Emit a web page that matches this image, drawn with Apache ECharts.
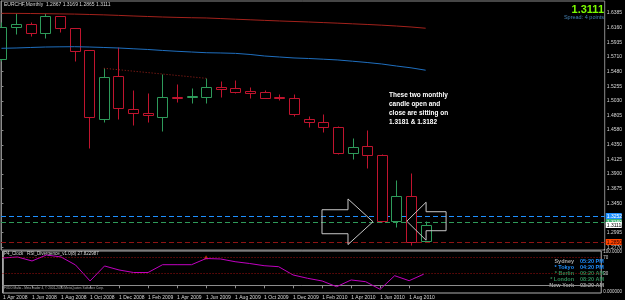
<!DOCTYPE html>
<html><head><meta charset="utf-8">
<script src="https://cdn.jsdelivr.net/npm/echarts@6/dist/echarts.min.js"></script>
<style>html,body{margin:0;padding:0;background:#000;}#c{width:625px;height:300px;}</style>
</head><body><div id="c"></div>
<script>
const symbolName = 'EURCHF,Monthly';
const months = ['Apr 2008','May 2008','Jun 2008','Jul 2008','Aug 2008','Sep 2008','Oct 2008','Nov 2008','Dec 2008',
  'Jan 2009','Feb 2009','Mar 2009','Apr 2009','May 2009','Jun 2009','Jul 2009','Aug 2009','Sep 2009','Oct 2009','Nov 2009','Dec 2009',
  'Jan 2010','Feb 2010','Mar 2010','Apr 2010','May 2010','Jun 2010','Jul 2010','Aug 2010','Sep 2010'];
const opens  = [1.5670,1.6164,1.6215,1.6081,1.6339,1.6149,1.5814,1.4745,1.5413,1.4899,1.4842,1.4785,1.5096,1.5084,1.5084,1.5248,1.5223,1.5186,1.5161,1.5084,1.5078,1.4745,1.4698,1.4621,1.4229,1.4333,1.4194,1.3182,1.3562,1.2867];
const closes = [1.6174,1.6215,1.6081,1.6339,1.6149,1.5803,1.4775,1.5402,1.4914,1.4837,1.4816,1.5084,1.5081,1.5099,1.5238,1.5208,1.5171,1.5158,1.5076,1.5069,1.4826,1.4698,1.4621,1.4229,1.4312,1.4194,1.3181,1.3560,1.2856,1.3111];
const lows   = [1.5650,1.6061,1.6035,1.5995,1.6096,1.5649,1.4297,1.4708,1.4745,1.4657,1.4698,1.4569,1.5016,1.5001,1.4991,1.5089,1.5150,1.5069,1.5066,1.5047,1.4796,1.4630,1.4553,1.4204,1.4127,1.3988,1.3165,1.3087,1.2805,1.2865];
const highs  = [1.6250,1.6380,1.6251,1.6380,1.6345,1.6160,1.5820,1.5532,1.5865,1.5197,1.5146,1.5444,1.5289,1.5223,1.5377,1.5340,1.5351,1.5238,1.5197,1.5130,1.5135,1.4795,1.4826,1.4641,1.4451,1.4580,1.4210,1.3808,1.3911,1.3169];
const maSlow = [1.6380,1.6379,1.6377,1.6374,1.6371,1.6368,1.6362,1.6356,1.6348,1.6339,1.6331,1.6323,1.6317,1.6312,1.6308,1.6299,1.6289,1.6280,1.6271,1.6262,1.6254,1.6246,1.6237,1.6228,1.6218,1.6208,1.6197,1.6184,1.6169,1.6150];
const maFast = [1.5840,1.5845,1.5853,1.5860,1.5863,1.5865,1.5860,1.5853,1.5845,1.5833,1.5822,1.5807,1.5794,1.5783,1.5772,1.5768,1.5762,1.5745,1.5721,1.5706,1.5691,1.5683,1.5672,1.5660,1.5641,1.5621,1.5598,1.5567,1.5539,1.5502];
const rsiValues = [68.3,70.8,60.8,75.8,70.8,50.8,10.8,48.3,38.3,32.0,32.0,51.5,51.5,51.5,67.0,65.8,59.0,54.5,49.0,46.5,25.8,17.5,10.8,-3.5,13.3,9.0,-10.0,24.0,11.5,27.8];
const rsiLast = '27.822987';
const rsiLevels = [70, 30];
const rsiAxisLabels = [83, 70, 30, -17];
const priceTicks = [1.6385,1.6160,1.5935,1.5710,1.5480,1.5255,1.5030,1.4805,1.4580,1.4350,1.4125,1.3900,1.3675,1.3450,1.2995,1.2770];
const dateTicks = [0,2,4,6,8,10,12,14,16,18,20,22,24,26,28];
const levelPrices = [1.3252, 1.3160, 1.2850];
const spreadPoints = 4;
const trendFrom = 7, trendTo = 14;
const noteLines = ['These two monthly','candle open and','close are sitting on','1.3181 & 1.3182'];
const clockCities = ['Sydney','* Tokyo','* Berlin','* London','New York'];
const clockTimes = ['05:20 PM','04:20 PM','09:20 AM','08:20 AM','03:20 AM'];
const arrowTips = [[25.4, 1.3164], [27.71, 1.3172]];

const last = months.length - 1;
const fmt = v => v.toFixed(4);
const candleData = months.map((m, i) => [i, opens[i], closes[i], lows[i], highs[i]]);
const bull = '#2e9a5a', bear = '#c0142e', frame = '#8c8c8c', txt = '#d8d8d8';
const levelStyles = [
  {line:'#1e90ff', bg:'#1e90ff', fg:'#ffffff'},
  {line:'#2e9a5a', bg:'#3cb371', fg:'#ffffff'},
  {line:'#8e1414', bg:'#ff4500', fg:'#330000'},
  {line:null, bg:'#ffffff', fg:'#000000'}
];
const levelData = levelPrices.concat([closes[last]]).map(v => [v]);
const arrowShapes = [
  {dir: 1, head: 25, headHalf: 22.8, shaft: 26, shaftHalf: 12},
  {dir: -1, head: 19.3, headHalf: 19, shaft: 20, shaftHalf: 9.5}
];
const xMin = -0.03, xMax = 41.24;
const clockCityColors = ['#a8a8a8','#1e90ff','#2e8b57','#2e8b57','#a8a8a8'];
const clockTimeColors = ['#1e90ff','#1e90ff','#2e8b57','#2e8b57','#a8a8a8'];

const chart = echarts.init(document.getElementById('c'), null, {renderer: 'canvas'});
const graphics = [
  {type:'text', left: 4, top: 2, style:{text: symbolName + '  ' + [opens[last], highs[last], lows[last], closes[last]].map(fmt).join(' '), fill: txt, font: '5px "Liberation Sans"'}},
  {type:'text', right: 21, top: 4, style:{text: fmt(closes[last]), fill:'#7cfc00', font:'bold 11px "Liberation Sans"'}},
  {type:'text', right: 21, top: 14, style:{text: 'Spread: ' + spreadPoints + ' points', fill:'#4682b4', font:'5.5px "Liberation Sans"'}},
  {type:'text', left: 389, top: 91, style:{text: noteLines.join('\n'), fill:'#ffffff', font:'bold 6.5px "Liberation Sans"', lineHeight: 9}},
  {type:'text', left: 4, top: 251, style:{text: 'P4_Clock   RSI_Divergence_v1.0(8) ' + rsiLast, fill: txt, font:'4.5px "Liberation Sans"'}},
  {type:'text', left: 4, top: 286.5, style:{text: 'FXDD Malta - MetaTrader 4, \u00a9 2001-2010 MetaQuotes Software Corp.', fill: '#b0b0b0', font:'3.2px "Liberation Sans"'}}
];
clockCities.forEach((c, i) => {
  graphics.push({type:'text', x: 574, y: 258 + i*6, style:{text: c, fill: clockCityColors[i], font:'bold 5.5px "Liberation Sans"', align:'right'}});
  graphics.push({type:'text', x: 580, y: 258 + i*6, style:{text: clockTimes[i], fill: clockTimeColors[i], font:'bold 5.5px "Liberation Sans"', align:'left'}});
});

chart.setOption({
  backgroundColor: '#000',
  animation: false,
  graphic: graphics,
  grid: [
    {left: 1, top: 1, width: 607, height: 249, show: true, borderColor: frame, borderWidth: 1, backgroundColor: '#000'},
    {left: 1, top: 251, width: 607, height: 42, show: true, borderColor: '#b0b0b0', borderWidth: 1, backgroundColor: '#000'}
  ],
  xAxis: [
    {type:'value', gridIndex: 0, min: xMin, max: xMax, show: false},
    {type:'value', gridIndex: 1, min: xMin, max: xMax, splitLine:{show:false},
      axisLine:{show:true, lineStyle:{color: frame}},
      axisTick:{show:true, length: 3, lineStyle:{color: frame}, customValues: dateTicks},
      axisLabel:{customValues: dateTicks, formatter: v => '1 ' + months[Math.round(v)], color: txt, fontSize: 5, align:'left', margin: 2, fontFamily:'Liberation Sans'}}
  ],
  yAxis: [
    {type:'value', gridIndex: 0, position:'right', min: 1.2728, max: 1.6570, splitLine:{show:false},
      axisLine:{show:true, lineStyle:{color: frame}},
      axisTick:{show:true, length: 2, lineStyle:{color: frame}, customValues: priceTicks},
      axisLabel:{customValues: priceTicks, formatter: v => fmt(v), color: txt, fontSize: 5, margin: 2, fontFamily:'Liberation Sans'}},
    {type:'value', gridIndex: 1, position:'right', min: -19.25, max: 85.75, splitLine:{show:false},
      axisLine:{show:true, lineStyle:{color: frame}},
      axisTick:{show:false},
      axisLabel:{customValues: rsiAxisLabels, formatter: v => (v === 70 || v === 30) ? String(v) : (v > 50 ? '100.0000' : '0.000000'), color: txt, fontSize: 4.5, margin: 2, fontFamily:'Liberation Sans'}}
  ],
  series: [
    {type:'line', name:'MA slow', xAxisIndex:0, yAxisIndex:0, data: maSlow.map((v,i)=>[i,v]), showSymbol:false, lineStyle:{color:'#a3221c', width:1}},
    {type:'line', name:'MA fast', xAxisIndex:0, yAxisIndex:0, data: maFast.map((v,i)=>[i,v]), showSymbol:false, lineStyle:{color:'#1f6fbf', width:1}},
    {type:'line', name:'trend', xAxisIndex:0, yAxisIndex:0, data: [[trendFrom, highs[trendFrom]], [trendTo, highs[trendTo]]], showSymbol:false, lineStyle:{color:'#a3221c', width:1, type:[1,2]}},
    {type:'custom', name:'levels', xAxisIndex:0, yAxisIndex:0, data: levelData, clip:false,
      encode:{y:0},
      renderItem: (params, api) => {
        const v = api.value(0);
        const y = Math.round(api.coord([0, v])[1]) + 0.5;
        const cs = params.coordSys;
        const st = levelStyles[params.dataIndex];
        const kids = [];
        if (st.line) kids.push({type:'line', shape:{x1: cs.x, y1: y, x2: cs.x + cs.width, y2: y}, style:{stroke: st.line, lineWidth: 1, lineDash:[5,3]}});
        kids.push({type:'rect', shape:{x: cs.x + cs.width + 1, y: y - 3.5, width: 16, height: 6}, style:{fill: st.bg}});
        kids.push({type:'text', x: cs.x + cs.width + 2, y: y, style:{text: fmt(v), fill: st.fg, font:'5px "Liberation Sans"', verticalAlign:'middle', align:'left'}});
        return {type:'group', children: kids};
      }},
    {type:'custom', name:'candles', xAxisIndex:0, yAxisIndex:0, data: candleData,
      renderItem: (params, api) => {
        const i = api.value(0), o = api.value(1), c = api.value(2), l = api.value(3), h = api.value(4);
        const pO = api.coord([i, o]), pC = api.coord([i, c]), pL = api.coord([i, l]), pH = api.coord([i, h]);
        const x = Math.round(pO[0]) + 0.5;
        const col = c >= o ? bull : bear;
        const top = Math.round(Math.min(pO[1], pC[1])) + 0.5;
        const bot = Math.max(Math.round(Math.max(pO[1], pC[1])) + 0.5, top + 1);
        return {type:'group', children:[
          {type:'line', shape:{x1:x, y1:Math.round(pH[1]) + 0.5, x2:x, y2:Math.round(pL[1]) + 0.5}, style:{stroke:col, lineWidth:1}},
          {type:'rect', shape:{x:x - 5, y:top, width:10, height:bot - top}, style:{fill:'#000', stroke:col, lineWidth:1}}
        ]};
      }},
    {type:'custom', name:'arrows', xAxisIndex:0, yAxisIndex:0, data: arrowTips, clip:false,
      renderItem: (params, api) => {
        const p = api.coord([api.value(0), api.value(1)]);
        const s = arrowShapes[params.dataIndex], d = s.dir;
        const bx = p[0] - d*s.head, ex = p[0] - d*(s.head + s.shaft);
        return {type:'polygon', shape:{points:[[p[0],p[1]],[bx,p[1]-s.headHalf],[bx,p[1]-s.shaftHalf],[ex,p[1]-s.shaftHalf],[ex,p[1]+s.shaftHalf],[bx,p[1]+s.shaftHalf],[bx,p[1]+s.headHalf]]},
          style:{fill:null, stroke:'#c8c8c8', lineWidth:1}};
      }},
    {type:'line', name:'RSI', xAxisIndex:1, yAxisIndex:1, data: rsiValues.map((v,i)=>[i,v]), showSymbol:false, lineStyle:{color:'#c000c0', width:1},
      markLine:{symbol:['none','none'], silent:true, label:{show:false}, lineStyle:{color:'#a01010', type:[1,2], width:1},
        data: rsiLevels.map(v => ({yAxis: v}))}},
    {type:'scatter', xAxisIndex:1, yAxisIndex:1, data: [[trendTo, rsiValues[trendTo] + 3]], symbol:'triangle', symbolSize:4, itemStyle:{color:'#ff4500'}}
  ]
});
</script></body></html>
